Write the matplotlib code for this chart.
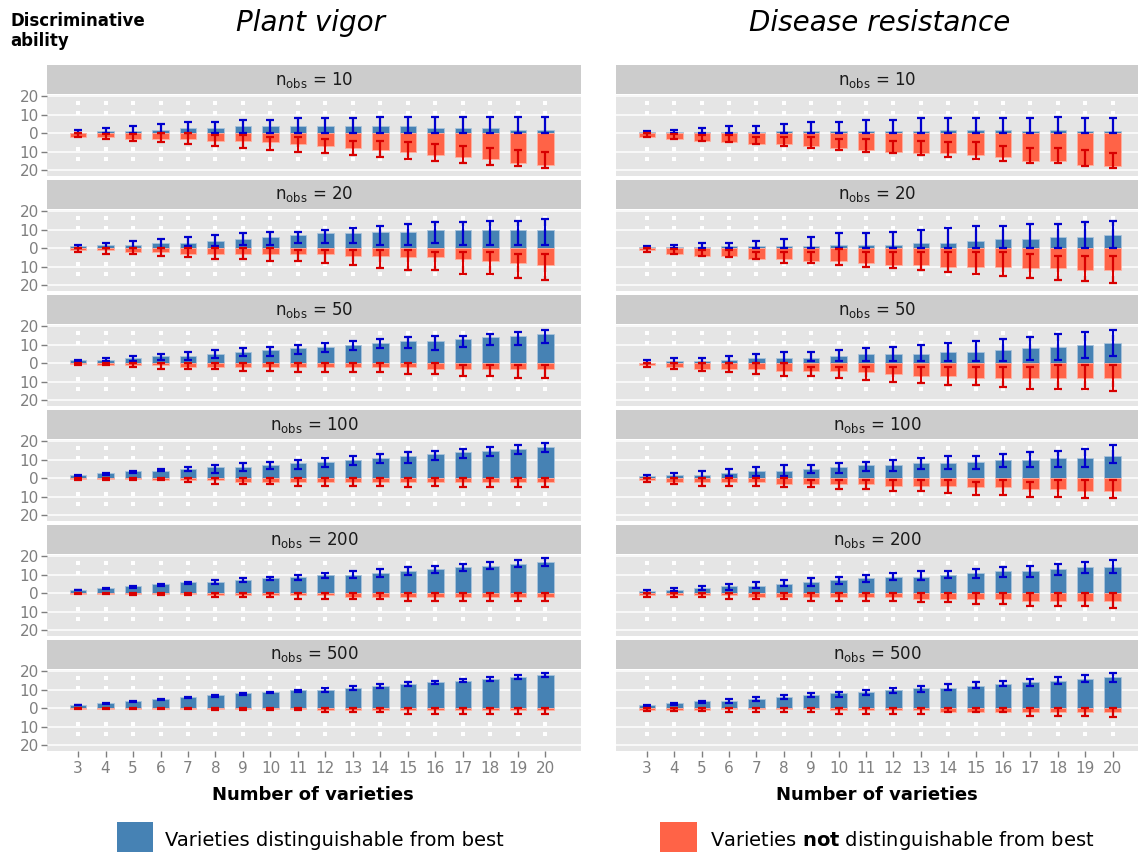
import matplotlib
matplotlib.use("Agg")
import matplotlib.pyplot as plt
from matplotlib.patches import Rectangle
import numpy as np

# number of varieties on the x axis
varieties = list(range(3, 21))
nobs_levels = [10, 20, 50, 100, 200, 500]
traits = ["Plant vigor", "Disease resistance"]

# ---- Plant vigor ----
# "dist" = distinguishable from best (blue, up); "not" = not distinguishable (red, down, magnitudes)
pv10_dist = [0, 1, 1, 2, 3, 3, 4, 4, 4, 4, 4, 4, 4, 3, 3, 3, 2, 2]
pv10_dist_lo = [0, 0, 0, 0, 0, 0, 0, 0, 0, 0, 0, 0, 0, 0, 0, 0, 0, 0]
pv10_dist_hi = [2, 3, 4, 5, 6, 6, 7, 7, 8, 8, 8, 9, 9, 9, 9, 9, 9, 9]
pv10_not = [2, 2, 3, 3, 3, 4, 4, 5, 6, 7, 8, 9, 10, 12, 13, 14, 16, 17]
pv10_not_lo = [0, 0.5, 0.5, 0, 0, 1, 1, 2, 2, 3, 4, 4, 5, 6, 7, 8, 9, 10]
pv10_not_hi = [2, 3, 4, 5, 6, 7, 8, 9, 10, 11, 12, 13, 14, 15, 16, 17, 18, 19]

pv20_dist = [1, 2, 2, 3, 3, 4, 5, 6, 7, 8, 8, 9, 9, 10, 10, 10, 10, 10]
pv20_dist_lo = [0, 0, 0, 0, 1, 1, 2, 2, 3, 3, 3, 2, 2, 3, 2, 2, 2, 2]
pv20_dist_hi = [2, 3, 4, 5, 6, 7, 8, 9, 9, 10, 11, 12, 13, 14, 14, 15, 15, 16]
pv20_not = [1, 1, 2, 2, 3, 3, 3, 3, 3, 3, 4, 4, 5, 5, 6, 7, 8, 9]
pv20_not_lo = [0, 0, 0, 0, 0, 0, 0, 0, 1, 1, 1, 1, 1, 2, 2, 2, 3, 3]
pv20_not_hi = [2, 3, 3, 4, 5, 6, 6, 7, 7, 8, 9, 11, 12, 12, 14, 14, 16, 17]

pv50_dist = [2, 2, 3, 4, 4, 5, 6, 7, 8, 9, 10, 11, 12, 12, 13, 14, 15, 16]
pv50_dist_lo = [1, 1, 1, 2, 2, 3, 4, 4, 5, 6, 7, 8, 8, 7, 9, 10, 10, 11]
pv50_dist_hi = [2, 3, 4, 5, 6, 7, 8, 9, 10, 11, 12, 13, 14, 15, 15, 16, 17, 18]
pv50_not = [0.5, 1, 1, 1, 2, 2, 2, 2, 2, 2, 2, 2, 2, 3, 3, 3, 3, 3]
pv50_not_lo = [0, 0, 0, 0, 0, 0, 0, 0, 0, 0, 0, 0, 0, 0, 1, 1, 1, 1]
pv50_not_hi = [1, 1, 2, 3, 3, 3, 4, 4, 5, 5, 5, 5, 6, 6, 7, 7, 8, 8]

pv100_dist = [2, 3, 4, 4, 5, 6, 6, 7, 8, 9, 10, 11, 12, 13, 14, 15, 16, 17]
pv100_dist_lo = [1, 2, 3, 4, 4, 3, 4, 5, 5, 6, 7, 8, 8, 10, 11, 12, 13, 14]
pv100_dist_hi = [2, 3, 4, 5, 6, 7, 8, 9, 10, 11, 12, 13, 14, 15, 16, 17, 18, 19]
pv100_not = [0.3, 0.3, 0.3, 1, 1, 1, 2, 2, 2, 2, 2, 2, 2, 2, 2, 2, 2, 2]
pv100_not_lo = [0, 0, 0, 0, 0, 0, 0, 0, 0, 0, 0, 0, 0, 0, 0, 0, 0, 0]
pv100_not_hi = [1, 1, 1, 1, 2, 3, 3, 3, 4, 4, 4, 4, 5, 4, 5, 5, 5, 5]

pv200_dist = [2, 3, 4, 5, 6, 6, 7, 8, 9, 10, 10, 11, 12, 13, 14, 15, 16, 17]
pv200_dist_lo = [1.5, 2.5, 3, 4, 5, 5, 6, 7, 7, 8, 8, 9, 10, 11, 12, 13, 14, 15]
pv200_dist_hi = [2, 3, 4, 5, 6, 7, 8, 9, 10, 11, 12, 13, 14, 15, 16, 17, 18, 19]
pv200_not = [0.3, 0.3, 0.3, 0.3, 0.3, 1, 1, 1, 1, 1, 2, 2, 2, 2, 2, 2, 2, 2]
pv200_not_lo = [0, 0, 0, 0, 0, 0, 0, 0, 0, 0, 0, 0, 0, 0, 0, 0, 0, 0]
pv200_not_hi = [0.5, 0.5, 1, 1, 1, 2, 2, 2, 3, 3, 3, 3, 4, 4, 4, 4, 4, 4]

pv500_dist = [2, 3, 4, 5, 6, 7, 8, 9, 10, 10, 11, 12, 13, 14, 15, 16, 17, 18]
pv500_dist_lo = [1.5, 2.5, 3.5, 4.5, 5.5, 6, 7, 8, 9, 9, 10, 11, 12, 13, 14, 15, 16, 17]
pv500_dist_hi = [2, 3, 4, 5, 6, 7, 8, 9, 10, 11, 12, 13, 14, 15, 16, 17, 18, 19]
pv500_not = [0.2, 0.2, 0.2, 0.2, 0.2, 0.2, 0.2, 0.2, 0.2, 1, 1, 1, 1, 1, 1, 1, 1, 1]
pv500_not_lo = [0, 0, 0, 0, 0, 0, 0, 0, 0, 0, 0, 0, 0, 0, 0, 0, 0, 0]
pv500_not_hi = [0.5, 0.5, 0.5, 0.5, 0.5, 1, 1, 1, 1, 2, 2, 2, 3, 3, 3, 3, 3, 3]

# ---- Disease resistance ----
dr10_dist = [0.5, 0.5, 0.5, 0.5, 0.5, 1, 1, 1, 1, 1, 1, 2, 2, 2, 1, 2, 1, 1]
dr10_dist_lo = [0, 0, 0, 0, 0, 0, 0, 0, 0, 0, 0, 0, 0, 0, 0, 0, 0, 0]
dr10_dist_hi = [1, 2, 3, 4, 4, 5, 6, 6, 7, 7, 8, 8, 8, 8, 8, 9, 8, 8]
dr10_not = [2, 3, 4, 5, 6, 6, 7, 8, 9, 10, 11, 11, 12, 13, 15, 15, 17, 18]
dr10_not_lo = [0, 0.5, 1, 1, 2, 2, 2, 3, 3, 4, 4, 5, 5, 7, 8, 8, 9, 11]
dr10_not_hi = [2, 3, 4, 5, 6, 7, 8, 9, 10, 11, 12, 13, 14, 15, 16, 16, 18, 19]

dr20_dist = [0.5, 0.5, 0.5, 1, 1, 1, 1, 2, 2, 2, 3, 3, 4, 5, 5, 6, 6, 7]
dr20_dist_lo = [0, 0, 0, 0, 0, 0, 0, 0, 0, 0, 0, 0, 0, 0, 0, 0, 0, 0]
dr20_dist_hi = [1, 2, 3, 3, 4, 5, 6, 8, 8, 9, 10, 11, 12, 12, 13, 13, 14, 15]
dr20_not = [1, 3, 4, 4, 6, 6, 7, 7, 8, 9, 9, 10, 10, 10, 11, 11, 12, 12]
dr20_not_lo = [0, 0.5, 1, 1, 2, 2, 2, 0.5, 2, 2, 2, 2, 2, 2, 3, 4, 4, 4]
dr20_not_hi = [2, 3, 4, 5, 6, 8, 8, 9, 10, 11, 12, 13, 14, 15, 16, 17, 18, 19]

dr50_dist = [0, 1, 1, 2, 3, 3, 3, 4, 5, 5, 5, 6, 6, 7, 8, 9, 10, 11]
dr50_dist_lo = [0, 0, 0, 0, 0, 0, 1, 1, 1, 1, 1, 1, 1, 1, 2, 2, 3, 4]
dr50_dist_hi = [2, 3, 3, 4, 5, 6, 6, 7, 8, 9, 10, 11, 12, 13, 14, 16, 17, 18]
dr50_not = [1, 2, 3, 3, 3, 4, 4, 4, 5, 6, 7, 7, 8, 8, 8, 8, 8, 8]
dr50_not_lo = [0, 0, 0, 0, 0, 0, 2, 2, 2, 2, 2, 2, 2, 2, 2, 1, 1, 1]
dr50_not_hi = [2, 3, 4, 5, 6, 7, 7, 8, 9, 10, 11, 12, 12, 13, 14, 14, 14, 15]

dr100_dist = [1, 2, 2, 3, 4, 4, 5, 6, 7, 7, 8, 8, 9, 10, 10, 11, 11, 12]
dr100_dist_lo = [0, 0, 0, 1, 1, 1, 3, 3, 4, 4, 5, 5, 5, 6, 6, 6, 6, 8]
dr100_dist_hi = [2, 3, 4, 5, 6, 7, 7, 8, 9, 10, 11, 12, 12, 13, 14, 15, 16, 18]
dr100_not = [1, 2, 2, 2, 2, 3, 3, 3, 3, 4, 4, 4, 5, 5, 6, 6, 7, 7]
dr100_not_lo = [0, 0, 0, 0, 0, 0, 1, 1, 1, 1, 1, 1, 2, 1, 2, 1, 1, 1]
dr100_not_hi = [2, 3, 4, 4, 4, 5, 5, 6, 6, 7, 7, 8, 9, 9, 10, 10, 11, 11]

dr200_dist = [1, 2, 3, 4, 4, 5, 6, 7, 8, 9, 9, 10, 11, 12, 12, 13, 14, 14]
dr200_dist_lo = [0, 1, 2, 2, 3, 4, 4, 5, 6, 7, 7, 8, 8, 9, 9, 10, 11, 11]
dr200_dist_hi = [2, 3, 4, 5, 6, 7, 8, 9, 10, 11, 12, 12, 13, 14, 15, 16, 17, 18]
dr200_not = [1, 1, 1, 1, 2, 2, 2, 2, 2, 2, 3, 3, 3, 3, 4, 4, 4, 4]
dr200_not_lo = [0, 0, 0, 0, 0, 0, 0, 0, 0, 0, 0, 0, 0, 0, 0, 0, 0, 0]
dr200_not_hi = [2, 2, 2, 3, 3, 3, 4, 4, 4, 4, 5, 5, 6, 6, 7, 7, 7, 8]

dr500_dist = [2, 3, 4, 4, 5, 6, 7, 8, 9, 10, 11, 11, 12, 13, 14, 15, 16, 17]
dr500_dist_lo = [1, 2, 3, 3, 4, 5, 6, 6, 7, 8, 9, 10, 11, 12, 12, 13, 14, 14]
dr500_dist_hi = [2, 3, 4, 5, 6, 7, 8, 9, 10, 11, 12, 13, 14, 15, 16, 17, 18, 19]
dr500_not = [1, 1, 1, 0.5, 0.5, 0.5, 0.5, 1, 1, 1, 1, 2, 2, 2, 2, 2, 2, 2]
dr500_not_lo = [0, 0, 0, 0, 0, 0, 0, 0, 0, 0, 0, 0, 0, 0, 0, 0, 0, 0]
dr500_not_hi = [1.5, 1.5, 1.5, 2, 2, 2, 2, 3, 3, 3, 3, 2, 2, 2, 4, 4, 4, 5]

panels = {
    ("pv", 10): (pv10_dist, pv10_dist_lo, pv10_dist_hi, pv10_not, pv10_not_lo, pv10_not_hi),
    ("pv", 20): (pv20_dist, pv20_dist_lo, pv20_dist_hi, pv20_not, pv20_not_lo, pv20_not_hi),
    ("pv", 50): (pv50_dist, pv50_dist_lo, pv50_dist_hi, pv50_not, pv50_not_lo, pv50_not_hi),
    ("pv", 100): (pv100_dist, pv100_dist_lo, pv100_dist_hi, pv100_not, pv100_not_lo, pv100_not_hi),
    ("pv", 200): (pv200_dist, pv200_dist_lo, pv200_dist_hi, pv200_not, pv200_not_lo, pv200_not_hi),
    ("pv", 500): (pv500_dist, pv500_dist_lo, pv500_dist_hi, pv500_not, pv500_not_lo, pv500_not_hi),
    ("dr", 10): (dr10_dist, dr10_dist_lo, dr10_dist_hi, dr10_not, dr10_not_lo, dr10_not_hi),
    ("dr", 20): (dr20_dist, dr20_dist_lo, dr20_dist_hi, dr20_not, dr20_not_lo, dr20_not_hi),
    ("dr", 50): (dr50_dist, dr50_dist_lo, dr50_dist_hi, dr50_not, dr50_not_lo, dr50_not_hi),
    ("dr", 100): (dr100_dist, dr100_dist_lo, dr100_dist_hi, dr100_not, dr100_not_lo, dr100_not_hi),
    ("dr", 200): (dr200_dist, dr200_dist_lo, dr200_dist_hi, dr200_not, dr200_not_lo, dr200_not_hi),
    ("dr", 500): (dr500_dist, dr500_dist_lo, dr500_dist_hi, dr500_not, dr500_not_lo, dr500_not_hi),
}

# styling
blue_bar, red_bar = "#4682B4", "#FF6347"
blue_err, red_err = "#0000CD", "#D80000"
panel_bg, strip_bg = "#E5E5E5", "#CCCCCC"
grey50 = "#7F7F7F"
dot_rows = [16.5, 10.7, -8.4, -14.2]  # white dotted guide marks in the panel background

W, H = 1140, 852
fig = plt.figure(figsize=(W / 100, H / 100), dpi=100)

cols = {"pv": (47, 534, (1.87, 21.3)), "dr": (616, 522, (1.87, 20.93))}
x = np.array(varieties)

for key, (px0, pw, xlim) in cols.items():
    for i, nobs in enumerate(nobs_levels):
        dist, dlo, dhi, notd, nlo, nhi = [np.array(a, dtype=float) for a in panels[(key, nobs)]]
        # strip
        st_top = 65 + 115 * i
        sax = fig.add_axes([px0 / W, 1 - (st_top + 29) / H, pw / W, 29 / H])
        sax.set_facecolor(strip_bg)
        sax.set_xticks([]); sax.set_yticks([])
        for s in sax.spines.values():
            s.set_visible(False)
        sax.text(0.5, 0.5, r"$\mathregular{n_{obs}}$ = %d" % nobs, ha="center", va="center",
                 fontsize=12, color="#1A1A1A", transform=sax.transAxes)
        # panel
        p_top = 95 + 115 * i
        ax = fig.add_axes([px0 / W, 1 - (p_top + 81) / H, pw / W, 81 / H])
        ax.set_facecolor(panel_bg)
        for s in ax.spines.values():
            s.set_visible(False)
        ax.set_xlim(*xlim)
        ax.set_ylim(-23.2, 20.7)
        for yv in [-20, -10, 0, 10, 20]:
            ax.axhline(yv, color="white", lw=1.1, zorder=1)
        xx, yy = np.meshgrid(x, dot_rows)
        ax.scatter(xx.ravel(), yy.ravel(), s=5, marker="s", color="white", lw=0, zorder=1)

        ax.bar(x, dist, width=0.6, color=blue_bar, edgecolor="#A8C2DA", lw=0.6, zorder=2)
        ax.bar(x, -notd, width=0.6, color=red_bar, edgecolor="#FFB0A0", lw=0.6, zorder=2)
        mid_b = (dlo + dhi) / 2
        ax.errorbar(x, mid_b, yerr=(dhi - dlo) / 2, fmt="none", ecolor=blue_err,
                    elinewidth=1.6, capsize=3.2, capthick=1.6, zorder=3)
        mid_r = -(nlo + nhi) / 2
        ax.errorbar(x, mid_r, yerr=(nhi - nlo) / 2, fmt="none", ecolor=red_err,
                    elinewidth=1.6, capsize=3.2, capthick=1.6, zorder=3)

        ax.set_yticks([-20, -10, 0, 10, 20])
        if key == "pv":
            ax.set_yticklabels(["20", "10", "0", "10", "20"], fontsize=11, color=grey50)
            ax.tick_params(axis="y", length=4, color=grey50, width=1, pad=2)
        else:
            ax.tick_params(axis="y", length=0, labelleft=False)
        ax.set_xticks(varieties)
        if i == len(nobs_levels) - 1:
            ax.set_xticklabels([str(v) for v in varieties], fontsize=11, color=grey50)
            ax.tick_params(axis="x", length=4, color=grey50, width=1, pad=3)
        else:
            ax.tick_params(axis="x", length=0, labelbottom=False)

# titles and labels
fig.text(10 / W, 1 - 12 / H, "Discriminative\nability", fontsize=12, fontweight="bold",
         ha="left", va="top", linespacing=1.15)
fig.text(310 / W, 1 - 23 / H, traits[0], fontsize=20, style="italic", ha="center", va="center")
fig.text(880 / W, 1 - 23 / H, traits[1], fontsize=20, style="italic", ha="center", va="center")
fig.text(313 / W, 1 - 795 / H, "Number of varieties", fontsize=13, fontweight="bold",
         ha="center", va="center")
fig.text(877 / W, 1 - 795 / H, "Number of varieties", fontsize=13, fontweight="bold",
         ha="center", va="center")

# legend
fig.patches.append(Rectangle((117 / W, 0), 36 / W, 30 / H, transform=fig.transFigure,
                             facecolor=blue_bar, edgecolor="none"))
fig.text(165 / W, 1 - 840 / H, "Varieties distinguishable from best", fontsize=14,
         ha="left", va="center")
fig.patches.append(Rectangle((660 / W, 0), 37 / W, 30 / H, transform=fig.transFigure,
                             facecolor=red_bar, edgecolor="none"))
fig.text(710 / W, 1 - 840 / H, r"Varieties $\mathbf{not}$ distinguishable from best", fontsize=14,
         ha="left", va="center")

fig.savefig("out.png", dpi=100, facecolor="white")
